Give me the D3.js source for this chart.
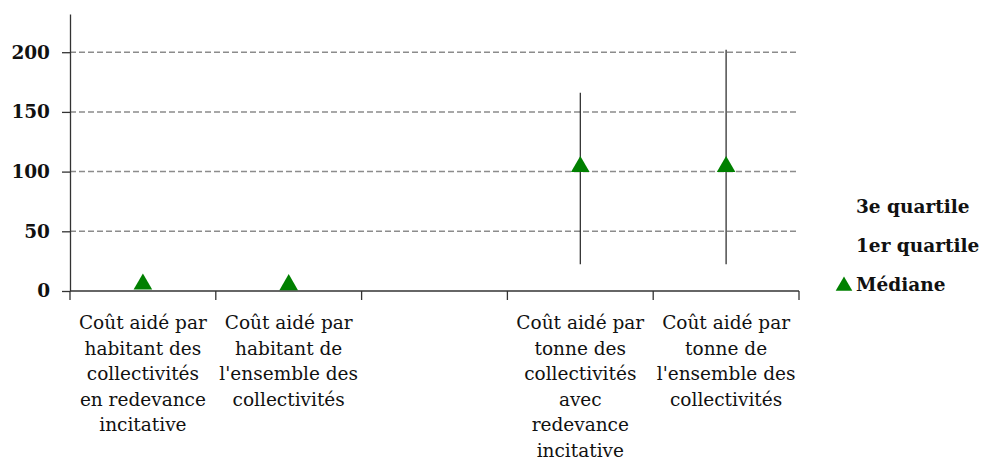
<!DOCTYPE html>
<html><head><meta charset="utf-8">
<script src="https://cdn.jsdelivr.net/npm/d3@7"></script>
<style>body{margin:0;background:#fff}svg{display:block}</style>
</head><body>
<svg id="c" width="982" height="462"></svg>
<script>
const categories = [
  ["Coût aidé par","habitant des","collectivités","en redevance","incitative"],
  ["Coût aidé par","habitant de","l'ensemble des","collectivités"],
  [],
  ["Coût aidé par","tonne des","collectivités","avec","redevance","incitative"],
  ["Coût aidé par","tonne de","l'ensemble des","collectivités"]
];
const categoryKeys = ["c1","c2","c3","c4","c5"];
const quartile3 = [null, null, null, 166, 202];
const quartile1 = [null, null, null, 22.5, 22.5];
const mediane = [6.5, 6, null, 105, 105];
const yTicks = [0, 50, 100, 150, 200];
const legendLabels = ["3e quartile", "1er quartile", "Médiane"];

const svg = d3.select("#c");
const serif = "'DejaVu Serif', serif";
const x = d3.scaleBand().domain(categoryKeys).range([70, 799]).padding(0);
const y = d3.scaleLinear().domain([0, 232]).range([291, 14]);

// gridlines
svg.append("g").selectAll("line").data(yTicks.filter(d => d > 0)).join("line")
  .attr("x1", 70).attr("x2", 799)
  .attr("y1", d => y(d)).attr("y2", d => y(d))
  .attr("stroke", "#8c8c8c").attr("stroke-width", 1.5).attr("stroke-dasharray", "6,3");

// y axis
const yAxis = svg.append("g").attr("transform", "translate(70,0)")
  .call(d3.axisLeft(y).tickValues(yTicks).tickSize(8).tickSizeOuter(0).tickPadding(12));
yAxis.select(".domain").attr("stroke", "#333").attr("stroke-width", 1.3);
yAxis.selectAll(".tick line").attr("stroke", "#333").attr("stroke-width", 1.3);
yAxis.selectAll(".tick text").attr("font-family", serif).attr("font-weight", "bold")
  .attr("font-size", 18.5).attr("fill", "#111");

// x axis with ticks at boundaries
const xAxisG = svg.append("g").attr("transform", `translate(0,${y(0)})`);
xAxisG.append("line").attr("x1", 70).attr("x2", 799).attr("stroke", "#333").attr("stroke-width", 1.3);
xAxisG.selectAll("line.t").data(categoryKeys.concat(["end"])).join("line").attr("class", "t")
  .attr("x1", (d, i) => i < categoryKeys.length ? x(d) : x.range()[1])
  .attr("x2", (d, i) => i < categoryKeys.length ? x(d) : x.range()[1])
  .attr("y1", 0).attr("y2", 9).attr("stroke", "#333").attr("stroke-width", 1.3);

// category labels
const lab = svg.append("g");
categories.forEach((lines, i) => {
  const t = lab.append("text").attr("text-anchor", "middle")
    .attr("font-family", serif).attr("font-size", 18.5).attr("fill", "#111");
  lines.forEach((ln, j) => {
    t.append("tspan").attr("x", x(categoryKeys[i]) + x.bandwidth() / 2)
      .attr("y", 329 + j * 25.6).text(ln);
  });
});

// whiskers
svg.append("g").selectAll("line").data(categoryKeys.map((k, i) => ({k, lo: quartile1[i], hi: quartile3[i]})).filter(d => d.lo != null))
  .join("line")
  .attr("x1", d => x(d.k) + x.bandwidth() / 2).attr("x2", d => x(d.k) + x.bandwidth() / 2)
  .attr("y1", d => y(d.lo)).attr("y2", d => y(d.hi))
  .attr("stroke", "#222").attr("stroke-width", 1.2);

// median triangles
const tri = d3.symbol().type(d3.symbolTriangle).size(150);
svg.append("g").selectAll("path").data(categoryKeys.map((k, i) => ({k, v: mediane[i]})).filter(d => d.v != null))
  .join("path").attr("d", tri)
  .attr("transform", d => `translate(${x(d.k) + x.bandwidth() / 2},${y(d.v) + 1})`)
  .attr("fill", "#008000");

// legend
const lg = svg.append("g");
const legY = [207, 246, 285];
legendLabels.forEach((l, i) => {
  lg.append("text").attr("x", 856).attr("y", legY[i]).attr("dy", "0.35em")
    .attr("font-family", serif).attr("font-weight", "bold").attr("font-size", 18.5).attr("fill", "#111").text(l);
});
lg.append("path").attr("d", d3.symbol().type(d3.symbolTriangle).size(120))
  .attr("transform", `translate(844,${legY[2] + 1})`).attr("fill", "#008000");
</script>
</body></html>
